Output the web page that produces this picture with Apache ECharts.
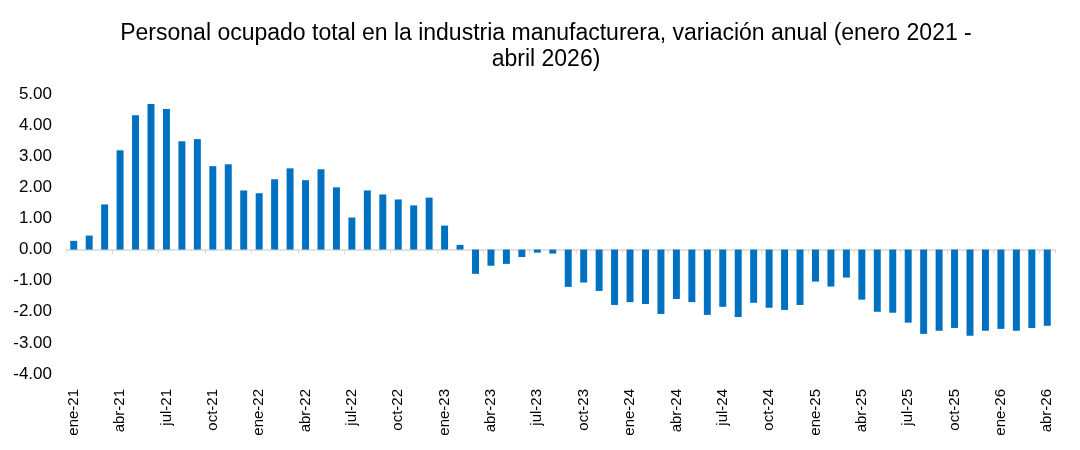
<!DOCTYPE html>
<html>
<head>
<meta charset="utf-8">
<script src="https://cdn.jsdelivr.net/npm/echarts@6/dist/echarts.min.js"></script>
<style>
  html, body { margin: 0; padding: 0; background: #fff; }
  #chart { width: 1080px; height: 450px; }
</style>
</head>
<body>
<div id="chart"></div>
<script>
const meses = ['ene', 'feb', 'mar', 'abr', 'may', 'jun', 'jul', 'ago', 'sep', 'oct', 'nov', 'dic'];
const anios = ['21', '22', '23', '24', '25', '26'];

// variación anual (%), enero 2021 - abril 2026
const valores2021 = [0.28, 0.45, 1.45, 3.19, 4.32, 4.68, 4.52, 3.48, 3.55, 2.68, 2.74, 1.90];
const valores2022 = [1.81, 2.26, 2.61, 2.23, 2.58, 2.00, 1.03, 1.90, 1.77, 1.61, 1.42, 1.67];
const valores2023 = [0.77, 0.15, -0.78, -0.52, -0.46, -0.24, -0.10, -0.13, -1.20, -1.06, -1.33, -1.78];
const valores2024 = [-1.69, -1.75, -2.07, -1.59, -1.69, -2.10, -1.84, -2.17, -1.71, -1.87, -1.94, -1.78];
const valores2025 = [-1.03, -1.19, -0.90, -1.61, -2.00, -2.03, -2.35, -2.71, -2.61, -2.52, -2.77, -2.61];
const valores2026 = [-2.55, -2.61, -2.52, -2.45];

const valores = [...valores2021, ...valores2022, ...valores2023, ...valores2024, ...valores2025, ...valores2026];
const categorias = valores.map((_, i) => `${meses[i % 12]}-${anios[Math.floor(i / 12)]}`);

const chart = echarts.init(document.getElementById('chart'), null, { renderer: 'canvas' });

const ejeGris = '#d9d9d9';
const fuente = 'Liberation Sans, Arial, sans-serif';

chart.setOption({
    animation: false,
    textStyle: { fontFamily: fuente },
    title: {
        text: 'Personal ocupado total en la industria manufacturera, variación anual (enero 2021 -\nabril 2026)',
        left: 541,
        top: 16,
        textAlign: 'center',
        textStyle: {
            color: '#000',
            fontSize: 23,
            fontWeight: 'normal',
            lineHeight: 26,
            fontFamily: fuente
        }
    },
    grid: {
        left: 66,
        right: 25,
        top: 94,
        bottom: 76,
        containLabel: false
    },
    xAxis: [{
        type: 'category',
        data: categorias,
        position: 'bottom',
        boundaryGap: true,
        axisLine: { onZero: true, lineStyle: { color: ejeGris, width: 1.5 } },
        axisTick: { show: true, interval: 2, length: 4, lineStyle: { color: ejeGris } },
        axisLabel: { show: false }
    }, {
        type: 'category',
        data: categorias,
        position: 'bottom',
        boundaryGap: true,
        axisLine: { show: false, onZero: false },
        axisTick: { show: false },
        axisLabel: {
            interval: 2,
            rotate: 90,
            margin: 15,
            color: '#000',
            fontSize: 15,
            fontFamily: fuente
        }
    }],
    yAxis: {
        type: 'value',
        min: -4,
        max: 5,
        interval: 1,
        axisLine: { show: false },
        axisTick: { show: false },
        splitLine: { show: false },
        axisLabel: {
            margin: 14,
            color: '#000',
            fontSize: 17,
            formatter: (v) => v.toFixed(2),
            fontFamily: fuente
        }
    },
    series: [{
        type: 'bar',
        xAxisIndex: 0,
        data: valores,
        barWidth: '45%',
        itemStyle: { color: '#0070C0' }
    }]
});
</script>
</body>
</html>
